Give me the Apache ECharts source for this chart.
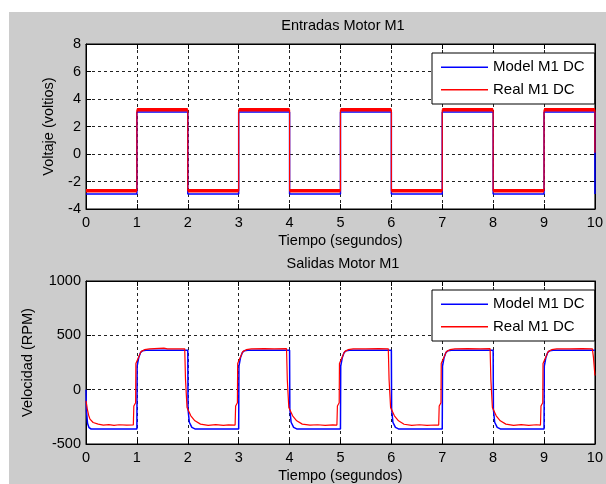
<!DOCTYPE html>
<html><head><meta charset="utf-8">
<script src="https://cdn.jsdelivr.net/npm/echarts@6/dist/echarts.min.js"></script>
<style>
html,body{margin:0;padding:0;background:#fff;}
#wrap{position:relative;width:606px;height:484px;overflow:hidden;background:#fff;}
#fig{position:absolute;left:9px;top:12px;right:0;bottom:0;background:#cccccc;}
#chart{position:absolute;left:0;top:0;width:606px;height:484px;}
</style></head><body>
<div id="wrap"><div id="fig"></div><div id="chart"></div></div>
<script>
// ---- text ----
const topTitle = 'Entradas Motor M1';
const bottomTitle = 'Salidas Motor M1';
const xName = 'Tiempo (segundos)';
const yNameTop = 'Voltaje (voltios)';
const yNameBottom = 'Velocidad (RPM)';
const seriesNames = ['Model M1 DC', 'Real M1 DC'];

// ---- axis ranges / ticks ----
const xRange = [0, 10, 1];
const yRangeTop = [-4, 8, 2];
const yRangeBottom = [-500, 1000, 500];

// ---- top: input voltage [t, V] ----
const modelIn = [[0,-2.9],[1,-2.9],[1,3.05],[2,3.05],[2,-2.9],[3,-2.9],[3,3.05],[4,3.05],[4,-2.9],
  [5,-2.9],[5,3.05],[6,3.05],[6,-2.9],[7,-2.9],[7,3.05],[8,3.05],[8,-2.9],[9,-2.9],[9,3.05],[10,3.05],[10,-2.9]];
const realIn = [[0,-2.67],[1,-2.67],[1,3.22],[2,3.22],[2,-2.67],[3,-2.67],[3,3.22],[4,3.22],[4,-2.67],
  [5,-2.67],[5,3.22],[6,3.22],[6,-2.67],[7,-2.67],[7,3.22],[8,3.22],[8,-2.67],[9,-2.67],[9,3.22],[10,3.22],[10,0.1]];

// ---- bottom: output speed [t, RPM] ----
const modelOut = [[0,0],[0.01,-200],[0.03,-310],[0.06,-350],[0.1,-362],[0.15,-363],
  [1,-363],[1.005,217],[1.035,293],[1.07,339],[1.11,358],[1.18,363],
  [2,363],[2.005,-180],[2.03,-300],[2.08,-347],[2.14,-361],[2.2,-363],
  [3,-363],[3.005,217],[3.035,293],[3.07,339],[3.11,358],[3.18,363],
  [4,363],[4.005,-180],[4.03,-300],[4.08,-347],[4.14,-361],[4.2,-363],
  [5,-363],[5.005,217],[5.035,293],[5.07,339],[5.11,358],[5.18,363],
  [6,363],[6.005,-180],[6.03,-300],[6.08,-347],[6.14,-361],[6.2,-363],
  [7,-363],[7.005,217],[7.035,293],[7.07,339],[7.11,358],[7.18,363],
  [8,363],[8.005,-180],[8.03,-300],[8.08,-347],[8.14,-361],[8.2,-363],
  [9,-363],[9.005,217],[9.035,293],[9.07,339],[9.11,358],[9.18,363],
  [10,363]];
const realOut = [[0,-104],[0.026,-180],[0.052,-235],[0.078,-271],[0.14,-302],[0.24,-317],[0.34,-326],[0.45,-321],[0.55,-328],[0.65,-323],[0.8,-327],[0.93,-324],
  [0.94,-150],[0.975,-120],[0.98,240],[1.035,300],[1.08,350],[1.15,368],[1.25,375],[1.53,383],[1.6,376],[1.94,376],
  [1.955,95],[1.985,-164],[2.06,-241],[2.14,-287],[2.25,-317],[2.4,-328],[2.55,-322],[2.7,-329],[2.8,-324],[2.93,-326],
  [2.94,-150],[2.975,-120],[2.98,240],[3.035,300],[3.08,350],[3.15,368],[3.25,375],[3.5,378],[3.7,375],[3.94,377],
  [3.955,95],[3.985,-164],[4.06,-241],[4.14,-287],[4.25,-317],[4.4,-327],[4.55,-323],[4.7,-329],[4.85,-324],[4.93,-326],
  [4.94,-150],[4.975,-120],[4.98,240],[5.035,300],[5.08,350],[5.15,368],[5.25,376],[5.5,375],[5.75,378],[5.94,376],
  [5.955,95],[5.985,-164],[6.06,-241],[6.14,-287],[6.25,-318],[6.4,-328],[6.55,-323],[6.7,-328],[6.85,-325],[6.93,-326],
  [6.94,-150],[6.975,-120],[6.98,240],[7.035,300],[7.08,350],[7.15,368],[7.25,375],[7.5,377],[7.75,375],[7.94,377],
  [7.955,95],[7.985,-164],[8.06,-241],[8.14,-287],[8.25,-317],[8.4,-329],[8.55,-322],[8.7,-328],[8.85,-323],[8.93,-326],
  [8.94,-150],[8.975,-120],[8.98,240],[9.035,300],[9.08,350],[9.15,368],[9.25,375],[9.5,376],[9.75,378],[9.95,376],
  [9.97,300],[10,130]];

// flat parts only (break at vertical transitions) for the thick noisy band of the real input
function flatParts(arr){
  const out=[];
  for(let i=0;i<arr.length;i++){
    if(i>0 && arr[i][0]===arr[i-1][0]) out.push([arr[i][0],'-']);
    out.push(arr[i]);
  }
  return out;
}

const FONT = 'Liberation Sans';
const BLUE = '#0000ff', RED = '#ff0000';
const txt = (size)=>({color:'#000', fontFamily:FONT, fontSize:size});
const plain = (v)=>String(v);

function xAx(gi, gap){
  return {gridIndex:gi, type:'value', min:xRange[0], max:xRange[1], interval:xRange[2],
    axisLine:{show:true, onZero:false, lineStyle:{color:'#000', width:1}},
    axisTick:{show:true, inside:true, length:5, lineStyle:{color:'#000'}},
    axisLabel:Object.assign({margin:6, showMinLabel:true, showMaxLabel:true, formatter:plain}, txt(14.5)),
    splitLine:{show:true, lineStyle:{color:'#222', width:1, type:[3,3]}},
    name:xName, nameLocation:'middle', nameGap:24, nameTextStyle:txt(14.5)};
}
function yAx(gi, r, name, gap){
  return {gridIndex:gi, type:'value', min:r[0], max:r[1], interval:r[2],
    axisLine:{show:true, onZero:false, lineStyle:{color:'#000', width:1}},
    axisTick:{show:true, inside:true, length:5, lineStyle:{color:'#000'}},
    axisLabel:Object.assign({margin:5, showMinLabel:true, showMaxLabel:true, formatter:plain}, txt(14.5)),
    splitLine:{show:true, lineStyle:{color:'#222', width:1, type:[3,3]}},
    name:name, nameLocation:'middle', nameGap:gap, nameTextStyle:txt(14.5)};
}
function mirrorX(gi){
  return {gridIndex:gi, type:'value', position:'top', min:xRange[0], max:xRange[1], interval:xRange[2],
    axisLine:{show:true, onZero:false, lineStyle:{color:'#000'}}, axisTick:{show:true, inside:true, length:5, lineStyle:{color:'#000'}},
    axisLabel:{show:false}, splitLine:{show:false}};
}
function mirrorY(gi, r){
  return {gridIndex:gi, type:'value', position:'right', min:r[0], max:r[1], interval:r[2],
    axisLine:{show:true, onZero:false, lineStyle:{color:'#000'}}, axisTick:{show:true, inside:true, length:5, lineStyle:{color:'#000'}},
    axisLabel:{show:false}, splitLine:{show:false}};
}
function legendAt(top){
  return {data:seriesNames, left:432, top:top, orient:'vertical', icon:'rect', itemWidth:47, itemHeight:1.6, itemGap:7.6,
    padding:[6.7,10,6.7,9], borderColor:'#000', borderWidth:1, backgroundColor:'#fff',
    textStyle:Object.assign({lineHeight:14, height:14}, txt(15)), selectedMode:false};
}
function line(name, xi, data, color, width){
  return {name:name, type:'line', xAxisIndex:xi, yAxisIndex:xi, data:data, symbol:'none', showSymbol:false,
    lineStyle:{color:color, width:width}, itemStyle:{color:color}, animation:false};
}

const chart = echarts.init(document.getElementById('chart'), null, {renderer:'canvas'});
chart.setOption({
  animation:false,
  backgroundColor:'transparent',
  grid:[
    {left:86, top:44, width:515, height:165, show:true, backgroundColor:'#fff', borderColor:'#000', borderWidth:1},
    {left:86, top:281, width:515, height:164, show:true, backgroundColor:'#fff', borderColor:'#000', borderWidth:1}
  ],
  xAxis:[xAx(0), xAx(1), mirrorX(0), mirrorX(1)],
  yAxis:[yAx(0,yRangeTop,yNameTop,30), yAx(1,yRangeBottom,yNameBottom,51), mirrorY(0,yRangeTop), mirrorY(1,yRangeBottom)],
  legend:[legendAt(53), legendAt(290)],
  graphic:[
    {type:'text', x:343, y:26, style:{text:topTitle, fill:'#000', fontFamily:FONT, fontSize:14.5, align:'center', verticalAlign:'middle'}},
    {type:'text', x:343, y:263.5, style:{text:bottomTitle, fill:'#000', fontFamily:FONT, fontSize:14.5, align:'center', verticalAlign:'middle'}}
  ],
  series:[
    line(seriesNames[0], 0, modelIn, BLUE, 1.5),
    line(seriesNames[1], 0, realIn, RED, 1.2),
    line('Real M1 DC band', 0, flatParts(realIn), RED, 3.6),
    line(seriesNames[0], 1, modelOut, BLUE, 1.5),
    line(seriesNames[1], 1, realOut, RED, 1.2)
  ]
});
</script>
</body></html>
